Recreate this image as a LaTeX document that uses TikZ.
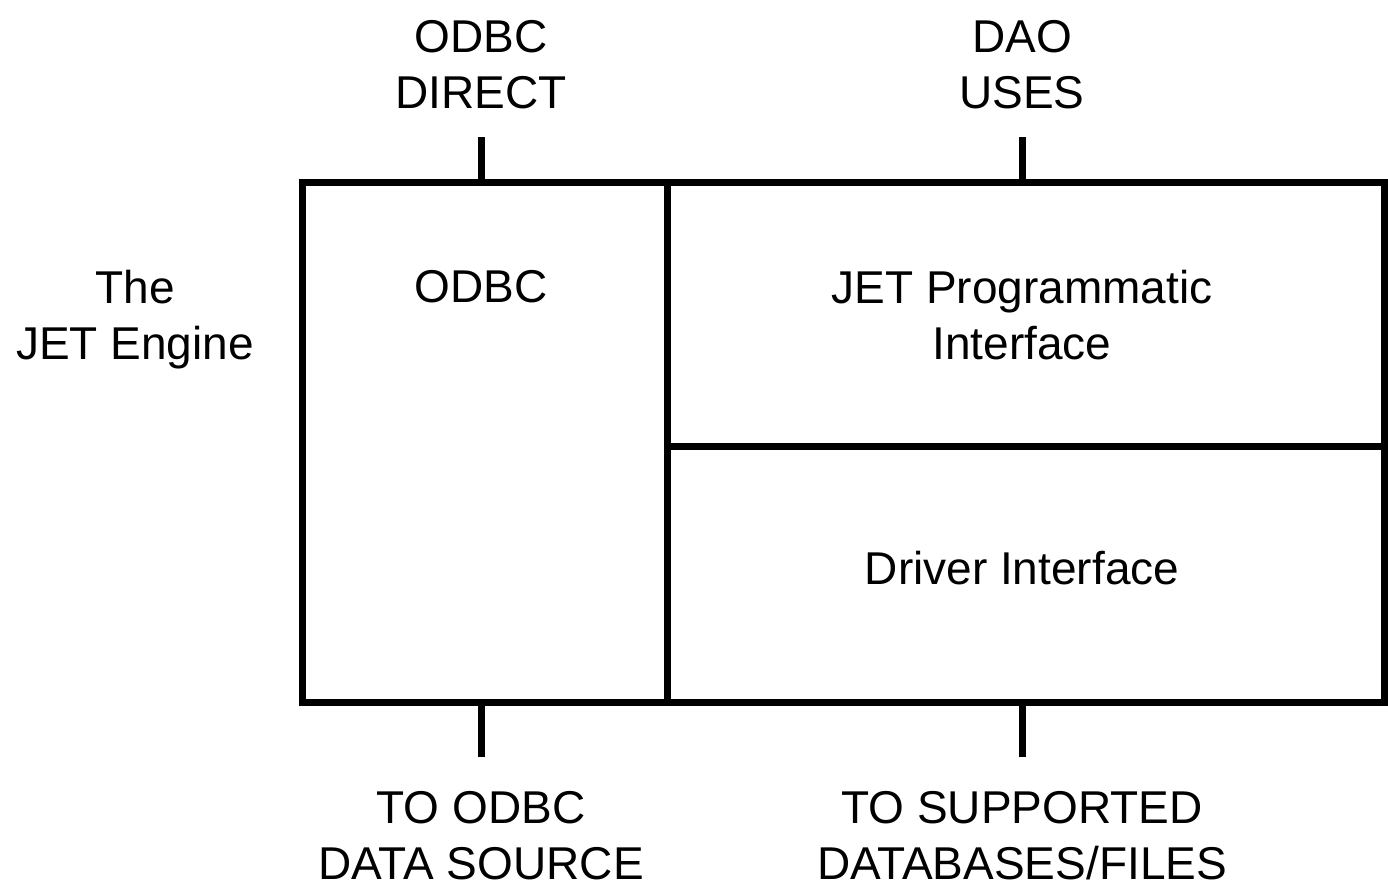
\documentclass[tikz,border=0pt]{standalone}
\usepackage{fontspec}
\setmainfont{Liberation Sans}
\begin{document}
\begin{tikzpicture}[x=1pt,y=-1pt,
  part/.style={draw, line width=7pt, inner sep=0pt, outer sep=0pt, anchor=north west},
  lbl/.style={align=center, inner sep=0pt, anchor=north, font=\fontsize{46}{56}\selectfont},
  tick/.style={line width=7pt}]
\useasboundingbox (0,0) rectangle (1388,888);
% boxes
\node[part, minimum width=365pt, minimum height=520pt] (odbc) at (302,182) {};
\node[part, minimum width=717pt, minimum height=264pt] (jpi) at (667,182) {};
\node[part, minimum width=717pt, minimum height=256pt] (drv) at (667,446) {};
% texts
\node[lbl] (odbcdirect) at (481,20) {ODBC\\DIRECT};
\node[lbl] (daouses) at (1022,20) {DAO\\USES};
\node[lbl] (engine) at (135,270) {The\\JET Engine};
\node[lbl] (odbctxt) at (481,270) {ODBC};
\node[lbl] (jpitxt) at (1022,270) {JET Programmatic\\Interface};
\node[lbl] (drvtxt) at (1022,551) {Driver Interface};
\node[lbl] (toodbc) at (481,791) {TO ODBC\\DATA SOURCE};
\node[lbl] (tosup) at (1022,791) {TO SUPPORTED\\DATABASES/FILES};
% ticks
\coordinate (t1) at (481,137);
\coordinate (t2) at (1022,137);
\coordinate (b1) at (481,757);
\coordinate (b2) at (1022,757);
\draw[tick] (t1) -- (t1 |- odbc.north);
\draw[tick] (t2) -- (t2 |- jpi.north);
\draw[tick] (b1) -- (b1 |- odbc.south);
\draw[tick] (b2) -- (b2 |- drv.south);
\end{tikzpicture}
\end{document}
